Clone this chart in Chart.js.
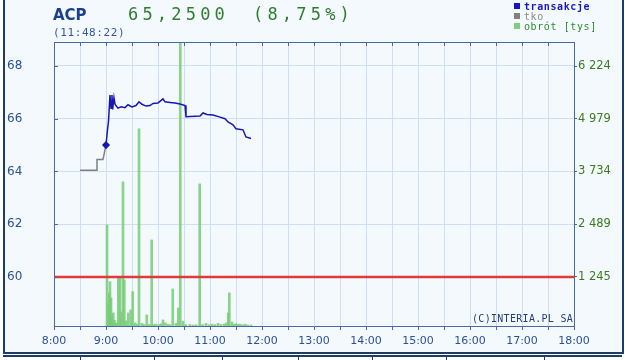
<!DOCTYPE html>
<html>
<head>
<meta charset="utf-8">
<script src="https://cdn.jsdelivr.net/npm/chart.js@4"></script>
<style>
  body { margin: 0; background: #ffffff; width: 625px; height: 360px; overflow: hidden; position: relative; }
  #frame { position: absolute; left: 3px; top: -4px; width: 617px; height: 354px; border: 2px solid #1e3c64; background: #f4f9fd; }
  #strip { position: absolute; left: 3px; top: 355px; width: 619px; height: 10px; border-top: 2px solid #1e3c64; }
  #strip div { position: absolute; top: 0; height: 10px; border-left: 1px solid #1e3c64; }
  #wrap { position: absolute; left: 0; top: 0; width: 625px; height: 360px; }
  .txt { position: absolute; white-space: nowrap; line-height: 1; font-family: "DejaVu Sans Mono", monospace; }
  #sym { left: 53px; top: 6px; font: bold 15px "DejaVu Sans", sans-serif; color: #1d3f8f; }
  #price { left: 128px; top: 6px; font-size: 17px; letter-spacing: 4.2px; color: #2f7d2f; }
  #chg { left: 253px; top: 6px; font-size: 17px; letter-spacing: 4.2px; color: #2f7d2f; }
  #time { left: 53px; top: 27px; font-size: 11px; letter-spacing: 0.6px; color: #3556a6; }
  .lg { left: 524px; font-size: 10px; letter-spacing: 0.6px; }
  .sq { position: absolute; left: 514px; width: 6px; height: 6px; }
  #copy { left: 472px; top: 314px; font-size: 10px; letter-spacing: 0.3px; color: #233f78; }
</style>
</head>
<body>
<div id="frame"></div>
<div id="strip">
  <div style="left:77px"></div><div style="left:151px"></div><div style="left:219px"></div>
  <div style="left:295px"></div><div style="left:369px"></div><div style="left:443px"></div><div style="left:541px"></div>
</div>
<div id="wrap"><canvas id="chart" width="625" height="360"></canvas></div>

<div class="txt" id="sym">ACP</div>
<div class="txt" id="price">65,2500</div>
<div class="txt" id="chg">(8,75%)</div>
<div class="txt" id="time">(11:48:22)</div>

<div class="sq" style="top:3px;background:#1515c8"></div>
<div class="txt lg" style="top:2px;color:#1a1ab8;font-weight:bold">transakcje</div>
<div class="sq" style="top:13px;background:#808080"></div>
<div class="txt lg" style="top:12px;color:#8a8a8a">tko</div>
<div class="sq" style="top:23px;background:#7fcf7f"></div>
<div class="txt lg" style="top:22px;color:#2f8a2f">obrót [tys]</div>

<div class="txt" id="copy">(C)INTERIA.PL SA</div>

<script>
// czas w minutach od północy
const priceTimes = [540.0, 541.7, 542.9, 544.6, 545.8, 546.9, 547.7, 549.2, 550.4, 553.8, 557.5, 561.9, 565.4, 570.0, 574.6, 578.1, 581.5, 586.2, 590.8, 594.2, 600.0, 605.8, 608.1, 613.8, 619.6, 625.4, 631.2, 632.3, 648.5, 651.9, 656.5, 663.5, 671.5, 677.3, 680.8, 686.5, 690.0, 698.1, 701.5, 707.3];
const priceValues = [65.0, 65.58, 65.9, 66.9, 66.4, 66.9, 66.35, 66.8, 66.55, 66.4, 66.45, 66.42, 66.53, 66.45, 66.5, 66.64, 66.55, 66.48, 66.5, 66.58, 66.6, 66.75, 66.64, 66.62, 66.6, 66.56, 66.5, 66.08, 66.1, 66.22, 66.16, 66.14, 66.06, 66.0, 65.88, 65.77, 65.62, 65.58, 65.31, 65.25];

const tkoTimes = [510.0, 529.6, 529.6, 536.5, 540.0];
const tkoValues = [64.05, 64.05, 64.45, 64.45, 65.0];

const volTimes = [541.2, 542.9, 543.8, 544.6, 545.8, 546.9, 548.4, 549.8, 551.5, 552.8, 554.2, 556.2, 557.3, 559.6, 561.1, 563.1, 565.7, 568.5, 570.8, 573.5, 576.0, 578.1, 581.5, 584.0, 587.0, 590.0, 592.7, 595.0, 597.7, 601.0, 603.5, 605.8, 608.5, 611.5, 614.0, 617.0, 620.8, 623.4, 625.7, 628.8, 632.0, 636.9, 640.5, 644.0, 648.1, 651.5, 655.4, 659.0, 662.3, 665.5, 669.2, 672.5, 676.2, 679.0, 681.1, 682.3, 685.4, 688.0, 690.0, 692.5, 694.6, 697.5, 700.4, 703.5, 707.3];
const volValues = [2473, 600, 867, 1134, 750, 300, 395, 220, 160, 140, 1221, 1245, 420, 3489, 1174, 210, 395, 466, 898, 160, 130, 4741, 150, 120, 347, 125, 2119, 120, 130, 115, 140, 229, 160, 130, 115, 962, 150, 513, 6900, 200, 120, 125, 110, 115, 3442, 120, 150, 115, 130, 120, 150, 125, 135, 160, 395, 867, 180, 125, 140, 120, 130, 115, 130, 110, 110];

const prevClose = 60.0;
const priceTicks = [60, 62, 64, 66, 68];
const volTicks = [1245, 2489, 3734, 4979, 6224];

const axisColor = "#4868a8";
const gridColor = "#cddff2";

const toXY = (xs, ys) => xs.map((x, i) => ({ x: x, y: ys[i] }));

// ramka wykresu + kreski skali do wewnątrz (góra, lewa)
const framePlugin = {
  id: "frame",
  afterDraw(chart) {
    const ctx = chart.ctx;
    const a = chart.chartArea;
    const xs = chart.scales.x;
    const ys = chart.scales.y;
    ctx.save();
    ctx.strokeStyle = axisColor;
    ctx.lineWidth = 1;
    ctx.beginPath();
    ctx.moveTo(a.left, a.top + 0.5);
    ctx.lineTo(a.right, a.top + 0.5);
    xs.ticks.forEach((t) => {
      const px = Math.round(xs.getPixelForValue(t.value)) + 0.5;
      ctx.moveTo(px, a.top);
      ctx.lineTo(px, a.top + 4);
    });
    ys.ticks.forEach((t) => {
      const py = Math.round(ys.getPixelForValue(t.value)) + 0.5;
      ctx.moveTo(a.left, py);
      ctx.lineTo(a.left + 4, py);
    });
    ctx.stroke();
    ctx.restore();
  },
};

new Chart(document.getElementById("chart"), {
  type: "bar",
  data: {
    datasets: [
      {
        type: "line",
        label: "transakcje",
        data: toXY(priceTimes, priceValues),
        yAxisID: "y",
        borderColor: "#1818b0",
        backgroundColor: "#1818b0",
        borderWidth: 1.5,
        pointStyle: "rectRot",
        pointRadius: (c) => (c.dataIndex === 0 ? 3 : 0),
        tension: 0,
        order: 0,
      },
      {
        type: "line",
        label: "tko",
        data: toXY(tkoTimes, tkoValues),
        yAxisID: "y",
        borderColor: "#808080",
        borderWidth: 1.5,
        pointRadius: 0,
        tension: 0,
        order: 1,
      },
      {
        type: "line",
        label: "kurs odniesienia",
        data: [{ x: 480, y: prevClose }, { x: 1080, y: prevClose }],
        yAxisID: "y",
        borderColor: "#e03a3a",
        borderWidth: 2.5,
        pointRadius: 0,
        order: 2,
      },
      {
        type: "bar",
        label: "obrót [tys]",
        data: toXY(volTimes, volValues),
        yAxisID: "yR",
        backgroundColor: "rgba(120, 205, 120, 0.85)",
        barThickness: 2,
        order: 3,
      },
    ],
  },
  options: {
    responsive: false,
    animation: false,
    layout: { padding: { left: 7, top: 42, right: 0, bottom: 0 } },
    plugins: { legend: { display: false }, tooltip: { enabled: false } },
    scales: {
      x: {
        type: "linear",
        min: 480,
        max: 1080,
        offset: false,
        afterFit: (s) => { s.height = 34; },
        ticks: {
          stepSize: 30,
          autoSkip: false,
          maxRotation: 0,
          padding: 5,
          color: "#2d4f95",
          font: { family: "DejaVu Sans", size: 11 },
          callback: (v) => (v % 60 === 0 ? v / 60 + ":00" : ""),
        },
        grid: { color: gridColor, tickColor: axisColor, tickLength: 4, offset: false },
        border: { color: axisColor },
      },
      y: {
        position: "left",
        min: 58.14,
        max: 68.91,
        afterBuildTicks: (s) => { s.ticks = priceTicks.map((v) => ({ value: v })); },
        afterFit: (s) => { s.width = 47; },
        ticks: {
          crossAlign: "far",
          padding: 0,
          color: "#2d4f95",
          font: { family: "DejaVu Sans", size: 12 },
        },
        grid: { color: gridColor, drawTicks: false },
        border: { color: axisColor },
      },
      yR: {
        position: "right",
        min: 87,
        max: 6791,
        afterBuildTicks: (s) => { s.ticks = volTicks.map((v) => ({ value: v })); },
        afterFit: (s) => { s.width = 51; },
        ticks: {
          padding: 1,
          color: "#3d7a1f",
          font: { family: "DejaVu Sans", size: 11.5 },
          callback: (v) => String(v).replace(/\B(?=(\d{3})+(?!\d))/g, " "),
        },
        grid: { drawOnChartArea: false, tickColor: axisColor, tickLength: 3 },
        border: { color: axisColor },
      },
    },
  },
  plugins: [framePlugin],
});
</script>
</body>
</html>
